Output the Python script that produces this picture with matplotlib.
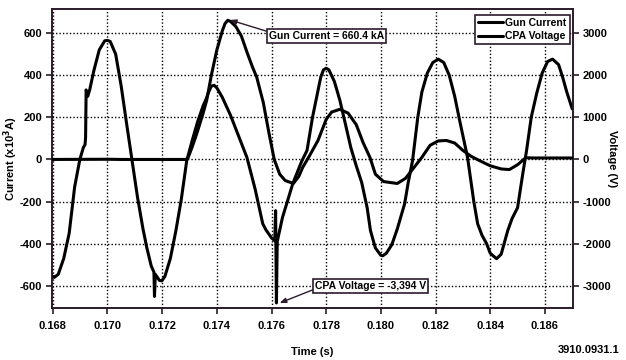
import matplotlib
matplotlib.use("Agg")
import matplotlib.pyplot as plt

plt.rcParams['font.family'] = ['Liberation Sans', 'DejaVu Sans']
plt.rcParams['font.weight'] = 'bold'
plt.rcParams['mathtext.default'] = 'bf'

# CPA Voltage (read in left-axis units, x5 gives volts)
cpa_t = [0.16800, 0.16805, 0.16820, 0.16840, 0.16860, 0.16880, 0.16899, 0.16912, 0.16918,
         0.16920, 0.16922, 0.16928, 0.16935, 0.16950, 0.16970, 0.16990, 0.17000, 0.17010,
         0.17030, 0.17050, 0.17070, 0.17090, 0.17110, 0.17130, 0.17144, 0.17160, 0.17170,
         0.17172, 0.17175, 0.17190, 0.17199, 0.17210, 0.17230, 0.17250, 0.17270, 0.17290,
         0.17310, 0.17330, 0.17350, 0.17362, 0.17370, 0.17380, 0.17390, 0.17400, 0.17420,
         0.17450, 0.17480, 0.17510, 0.17540, 0.17568, 0.17580, 0.17600, 0.17612, 0.17615,
         0.17618, 0.17621, 0.17640, 0.17678, 0.17710, 0.17730, 0.17750, 0.17765, 0.17780,
         0.17790, 0.17800, 0.17810, 0.17830, 0.17850, 0.17870, 0.17890, 0.17910, 0.17930,
         0.17950, 0.17962, 0.17980, 0.18000, 0.18007, 0.18020, 0.18040, 0.18060, 0.18087,
         0.18100, 0.18116, 0.18135, 0.18150, 0.18170, 0.18190, 0.18210, 0.18230, 0.18250,
         0.18270, 0.18288, 0.18317, 0.18340, 0.18354, 0.18370, 0.18387, 0.18400, 0.18423,
         0.18440, 0.18464, 0.18480, 0.18500, 0.18520, 0.18533, 0.18550, 0.18570, 0.18590,
         0.18610, 0.18628, 0.18650, 0.18665, 0.18680, 0.18700]
cpa_kA = [-555, -560, -545, -470, -350, -130, 0, 57, 70,
          105, 330, 300, 330, 420, 520, 563, 565, 560,
          500, 350, 170, -5, -180, -330, -419, -505, -535,
          -650, -545, -574, -576, -555, -470, -340, -190, -5,
          90, 180, 255, 290, 320, 348, 352, 340, 295,
          210, 110, 10, -140, -305, -335, -372, -386, -243,
          -681, -390, -276, -114, -10, 43, 200, 295, 390,
          425, 433, 425, 370, 281, 170, 57, -30, -110,
          -230, -338, -420, -455, -457, -445, -405, -330, -210,
          -110, -5, 200, 320, 410, 460, 476, 460, 400,
          300, 186, 10, -200, -305, -360, -400, -445, -471,
          -450, -338, -280, -229, -60, 43, 200, 314, 410,
          465, 476, 450, 390, 320, 240]
cpa_volts = [v * 5 for v in cpa_kA]

# Gun Current (x10^3 A)
gun_t = [0.16800, 0.17000, 0.17050, 0.17285, 0.17294, 0.17310, 0.17327, 0.17350,
         0.17363, 0.17380, 0.17400, 0.17420, 0.17430, 0.17440, 0.17450, 0.17470,
         0.17490, 0.17510, 0.17530, 0.17546, 0.17570, 0.17590, 0.17610, 0.17630,
         0.17650, 0.17680, 0.17700, 0.17714, 0.17740, 0.17770, 0.17800, 0.17820,
         0.17850, 0.17880, 0.17910, 0.17935, 0.17960, 0.17980, 0.18010, 0.18060,
         0.18090, 0.18120, 0.18150, 0.18180, 0.18210, 0.18240, 0.18270, 0.18300,
         0.18330, 0.18360, 0.18400, 0.18440, 0.18470, 0.18500, 0.18530, 0.18560,
         0.18700]
gun_kA = [0, 1, 0, 0, 5, 60, 124, 220,
          281, 400, 519, 610, 645, 660.4, 655, 630,
          585, 510, 440, 390, 270, 130, 0, -70,
          -100, -114, -80, -38, 20, 90, 190, 225,
          238, 220, 165, 80, 10, -70, -105, -114,
          -90, -40, 10, 67, 88, 90, 78, 43,
          15, -5, -30, -45, -48, -25, 8, 7,
          7]

x_ticks = [0.168, 0.170, 0.172, 0.174, 0.176, 0.178, 0.180, 0.182, 0.184, 0.186]
left_ticks = [-600, -400, -200, 0, 200, 400, 600]
right_ticks = [-3000, -2000, -1000, 0, 1000, 2000, 3000]

spine_col = '#2b1a2b'
fs = 8
fs_small = 7.5

fig = plt.figure(figsize=(6.26, 3.6), dpi=100)
ax = fig.add_axes([0.083, 0.1444, 0.832, 0.8306])
ax2 = ax.twinx()

ylim = (-705, 714)
ax.set_xlim(0.16797, 0.18702)
ax.set_ylim(*ylim)
ax2.set_ylim(ylim[0] * 5, ylim[1] * 5)

lg, = ax.plot(gun_t, gun_kA, color='black', lw=2.2, zorder=3,
              solid_joinstyle='round', solid_capstyle='round')
lc, = ax2.plot(cpa_t, cpa_volts, color='black', lw=2.2, zorder=3,
               solid_joinstyle='round', solid_capstyle='round')

ax.set_xticks(x_ticks)
ax.set_xticklabels([f'{x:.3f}' for x in x_ticks])
ax.set_yticks(left_ticks)
ax.set_yticklabels([str(v) for v in left_ticks])
ax2.set_yticks(right_ticks)
ax2.set_yticklabels([str(v) for v in right_ticks])

ax.grid(True, color='black', linestyle=(0, (1, 1.5)), linewidth=1.0)
ax.set_axisbelow(True)

for a in (ax, ax2):
    for s in a.spines.values():
        s.set_color(spine_col)
        s.set_linewidth(1.2)
    a.tick_params(colors=spine_col, labelcolor='black', labelsize=fs, length=4, width=1.2, pad=3)
ax.tick_params(axis='x', pad=5)

ax.set_xlabel('Time (s)', fontsize=fs, fontweight='bold')
ax.xaxis.set_label_coords(0.5, -0.13)
ax.set_ylabel('Current (x10$^3$A)', fontsize=fs, fontweight='bold')
ax.yaxis.set_label_coords(-0.062, 0.5)
ax2.set_ylabel('Voltage (V)', fontsize=fs, fontweight='bold', rotation=270)
ax2.yaxis.set_label_coords(1.085, 0.5)

leg = ax.legend([lg, lc], ['Gun Current', 'CPA Voltage'], loc='upper right',
                bbox_to_anchor=(0.994, 0.98), borderaxespad=0, fontsize=fs_small,
                handlelength=2.4, handletextpad=0.2, borderpad=0.3, labelspacing=0.3,
                fancybox=False, framealpha=1, edgecolor=spine_col)
leg.get_frame().set_linewidth(1.2)
ax2.set_zorder(1)
ax.set_zorder(2)
ax.patch.set_visible(False)

ax.annotate('Gun Current = 660.4 kA', xy=(0.17448, 662), xytext=(0.17802, 586),
            ha='center', va='center', fontsize=fs_small, fontweight='bold',
            bbox=dict(boxstyle='square,pad=0.2', fc='white', ec=spine_col, lw=1.2),
            arrowprops=dict(arrowstyle='-|>,head_length=0.5,head_width=0.2', color=spine_col,
                            lw=1.0, relpos=(0.0, 0.9), shrinkA=0, shrinkB=0))
ax.annotate('CPA Voltage = -3,394 V', xy=(0.1763, -681), xytext=(0.17963, -600),
            ha='center', va='center', fontsize=fs_small, fontweight='bold',
            bbox=dict(boxstyle='square,pad=0.2', fc='white', ec=spine_col, lw=1.2),
            arrowprops=dict(arrowstyle='-|>,head_length=0.5,head_width=0.2', color=spine_col,
                            lw=1.0, relpos=(0.0, 0.2), shrinkA=0, shrinkB=0))

fig.text(0.99, 0.028, '3910.0931.1', ha='right', va='center', fontsize=fs, fontweight='bold')

fig.savefig('out.png', dpi=100)
